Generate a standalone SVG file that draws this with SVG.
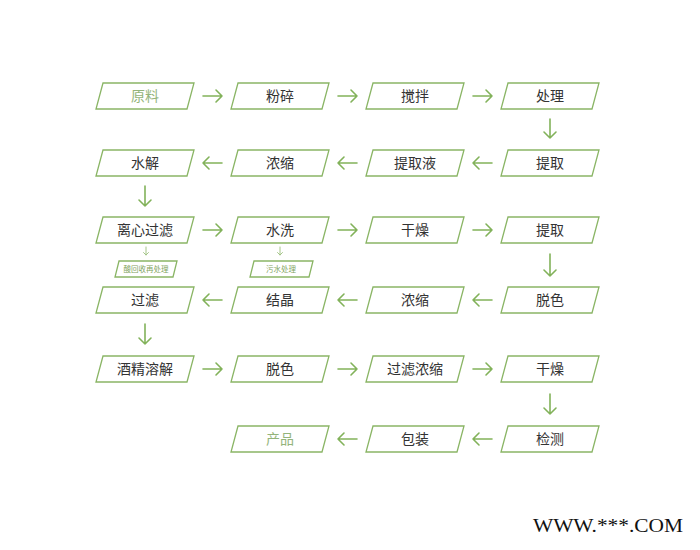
<svg xmlns="http://www.w3.org/2000/svg" width="700" height="550" viewBox="0 0 700 550">
<defs>
<style>
.box{fill:#fff;stroke:#8ab565;stroke-width:1.3}
.t{font-family:"Noto Sans CJK SC","Noto Sans",sans-serif;font-size:14px;fill:#333;text-anchor:middle}
.lt{fill:#94b47a}
.st{font-family:"Noto Sans CJK SC","Noto Sans",sans-serif;font-size:7.5px;fill:#7fa45e;text-anchor:middle}
.ar{fill:none;stroke:#82b25a;stroke-width:1.6;stroke-linecap:round;stroke-linejoin:round}
.sar{fill:none;stroke:#9cc07e;stroke-width:0.9;stroke-linecap:round}
</style>
<polygon id="pg" points="-42,0 49,0 42,26 -49,26"/>
</defs>
<rect width="700" height="550" fill="#fff"/>

<g id="n1"><use href="#pg" x="145" y="83" class="box"/><text x="145" y="101" class="t lt">原料</text></g>
<g id="n2"><use href="#pg" x="280" y="83" class="box"/><text x="280" y="101" class="t">粉碎</text></g>
<g id="n3"><use href="#pg" x="415" y="83" class="box"/><text x="415" y="101" class="t">搅拌</text></g>
<g id="n4"><use href="#pg" x="550" y="83" class="box"/><text x="550" y="101" class="t">处理</text></g>

<g id="n5"><use href="#pg" x="145" y="150" class="box"/><text x="145" y="168" class="t">水解</text></g>
<g id="n6"><use href="#pg" x="280" y="150" class="box"/><text x="280" y="168" class="t">浓缩</text></g>
<g id="n7"><use href="#pg" x="415" y="150" class="box"/><text x="415" y="168" class="t">提取液</text></g>
<g id="n8"><use href="#pg" x="550" y="150" class="box"/><text x="550" y="168" class="t">提取</text></g>

<g id="n9"><use href="#pg" x="145" y="217" class="box"/><text x="145" y="235" class="t">离心过滤</text></g>
<g id="n10"><use href="#pg" x="280" y="217" class="box"/><text x="280" y="235" class="t">水洗</text></g>
<g id="n11"><use href="#pg" x="415" y="217" class="box"/><text x="415" y="235" class="t">干燥</text></g>
<g id="n12"><use href="#pg" x="550" y="217" class="box"/><text x="550" y="235" class="t">提取</text></g>

<g id="s1"><polygon points="119,261 177,261 173,277 115,277" class="box" stroke-width="1"/><text x="146" y="272" class="st">酸回收再处理</text></g>
<g id="s2"><polygon points="254,261 313,261 309,277 250,277" class="box" stroke-width="1"/><text x="281" y="272" class="st">污水处理</text></g>

<g id="n13"><use href="#pg" x="145" y="287" class="box"/><text x="145" y="305" class="t">过滤</text></g>
<g id="n14"><use href="#pg" x="280" y="287" class="box"/><text x="280" y="305" class="t">结晶</text></g>
<g id="n15"><use href="#pg" x="415" y="287" class="box"/><text x="415" y="305" class="t">浓缩</text></g>
<g id="n16"><use href="#pg" x="550" y="287" class="box"/><text x="550" y="305" class="t">脱色</text></g>

<g id="n17"><use href="#pg" x="145" y="356" class="box"/><text x="145" y="374" class="t">酒精溶解</text></g>
<g id="n18"><use href="#pg" x="280" y="356" class="box"/><text x="280" y="374" class="t">脱色</text></g>
<g id="n19"><use href="#pg" x="415" y="356" class="box"/><text x="415" y="374" class="t">过滤浓缩</text></g>
<g id="n20"><use href="#pg" x="550" y="356" class="box"/><text x="550" y="374" class="t">干燥</text></g>

<g id="n21"><use href="#pg" x="280" y="426" class="box"/><text x="280" y="444" class="t lt">产品</text></g>
<g id="n22"><use href="#pg" x="415" y="426" class="box"/><text x="415" y="444" class="t">包装</text></g>
<g id="n23"><use href="#pg" x="550" y="426" class="box"/><text x="550" y="444" class="t">检测</text></g>

<g id="connectors">
<!-- row 1 right -->
<path class="ar" d="M203,96 H222 M216,90 L222,96 L216,102"/>
<path class="ar" d="M338,96 H357 M351,90 L357,96 L351,102"/>
<path class="ar" d="M473,96 H492 M486,90 L492,96 L486,102"/>
<!-- row 2 left -->
<path class="ar" d="M222,163 H203 M209,157 L203,163 L209,169"/>
<path class="ar" d="M357,163 H338 M344,157 L338,163 L344,169"/>
<path class="ar" d="M492,163 H473 M479,157 L473,163 L479,169"/>
<!-- row 3 right -->
<path class="ar" d="M203,230 H222 M216,224 L222,230 L216,236"/>
<path class="ar" d="M338,230 H357 M351,224 L357,230 L351,236"/>
<path class="ar" d="M473,230 H492 M486,224 L492,230 L486,236"/>
<!-- row 4 left -->
<path class="ar" d="M222,300 H203 M209,294 L203,300 L209,306"/>
<path class="ar" d="M357,300 H338 M344,294 L338,300 L344,306"/>
<path class="ar" d="M492,300 H473 M479,294 L473,300 L479,306"/>
<!-- row 5 right -->
<path class="ar" d="M203,369 H222 M216,363 L222,369 L216,375"/>
<path class="ar" d="M338,369 H357 M351,363 L357,369 L351,375"/>
<path class="ar" d="M473,369 H492 M486,363 L492,369 L486,375"/>
<!-- row 6 left -->
<path class="ar" d="M357,439 H338 M344,433 L338,439 L344,445"/>
<path class="ar" d="M492,439 H473 M479,433 L473,439 L479,445"/>
<!-- vertical -->
<path class="ar" d="M550,119 V138 M544,132 L550,138 L556,132"/>
<path class="ar" d="M145,186 V206 M139,200 L145,206 L151,200"/>
<path class="ar" d="M550,254 V276 M544,270 L550,276 L556,270"/>
<path class="ar" d="M145,324 V344 M139,338 L145,344 L151,338"/>
<path class="ar" d="M550,394 V414 M544,408 L550,414 L556,408"/>
<!-- small -->
<path class="sar" d="M146,247 V255 M143.5,252.5 L146,255 L148.5,252.5"/>
<path class="sar" d="M280,247 V255 M277.5,252.5 L280,255 L282.5,252.5"/>
</g>

<text x="533" y="532" font-family="Liberation Serif, serif" font-size="18" fill="#111" textLength="150" lengthAdjust="spacingAndGlyphs">WWW.***.COM</text>
</svg>
